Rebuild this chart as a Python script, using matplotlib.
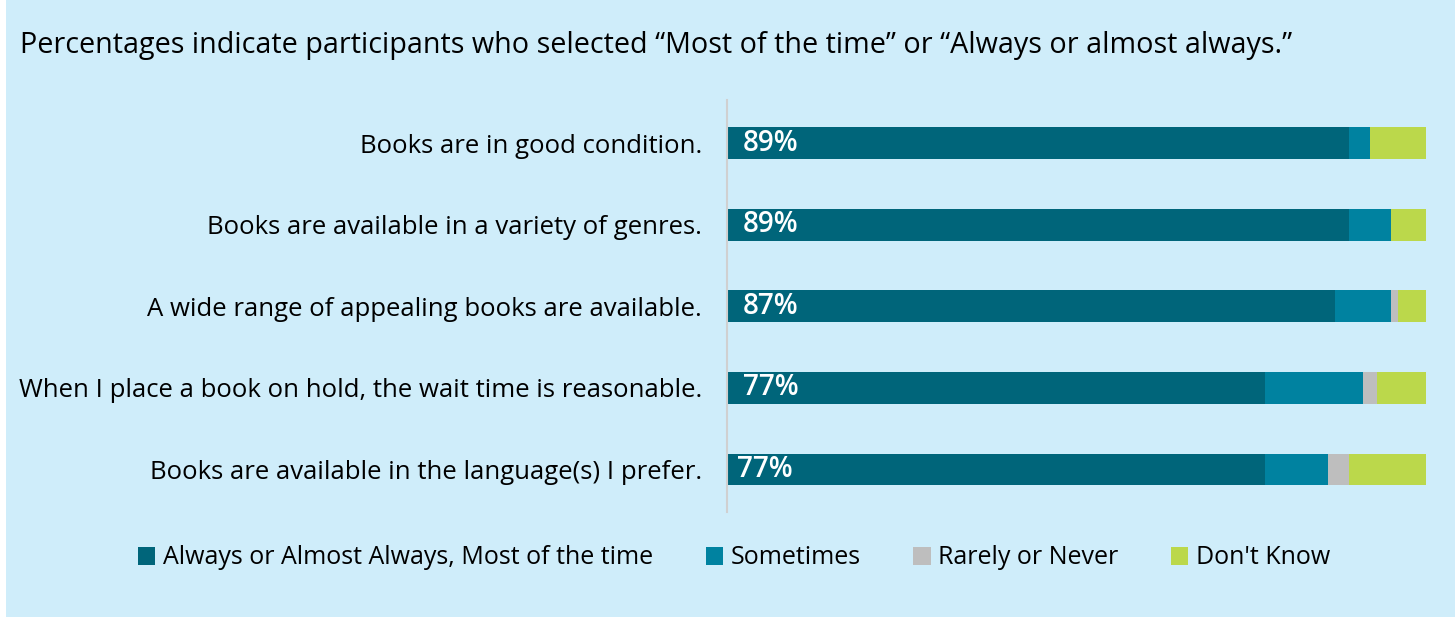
import matplotlib.pyplot as plt
from matplotlib.patches import Rectangle, Patch

# data (percent of participants)
statements = ['Books are in good condition.',
              'Books are available in a variety of genres.',
              'A wide range of appealing books are available.',
              'When I place a book on hold, the wait time is reasonable.',
              'Books are available in the language(s) I prefer.']
always = [89, 89, 87, 77, 77]
sometimes = [3, 6, 8, 14, 9]
rarely = [0, 0, 1, 2, 3]
dont_know = [8, 5, 4, 7, 11]
series_names = ['Always or Almost Always, Most of the time', 'Sometimes',
                'Rarely or Never', "Don't Know"]

colors = ['#00657A', '#0082A0', '#BEBEBE', '#BBD84B']
bg = '#CFEDFA'

plt.rcParams['font.family'] = ['Open Sans', 'DejaVu Sans']

fig = plt.figure(figsize=(14.55, 6.17), dpi=100, facecolor='white')
fig.patches.append(Rectangle((6 / 1455, 0), 1, 1, transform=fig.transFigure,
                             facecolor=bg, edgecolor='none', zorder=-10))

ax = fig.add_axes([727 / 1455, 1 - 512 / 617, 699 / 1455, 412 / 617])
ax.set_facecolor('none')

y = list(range(len(statements)))
left = [0] * len(statements)
for vals, c in zip([always, sometimes, rarely, dont_know], colors):
    ax.barh(y, vals, left=left, height=0.39, color=c, edgecolor='none')
    left = [l + v for l, v in zip(left, vals)]

for i, v in enumerate(always):
    xoff = 2.3 if i < 4 else 1.4
    ax.text(xoff, i, f'{v}%', color='white', fontsize=20,
            fontweight='semibold', va='center', ha='left')

ax.set_xlim(0, 100)
ax.set_ylim(len(statements) - 0.5 + 0.02, -0.53)
ax.set_yticks(y)
ax.set_yticklabels(statements, fontsize=18.5)
ax.tick_params(axis='y', length=0, pad=18)
ax.set_xticks([])
for s in ['top', 'right', 'bottom']:
    ax.spines[s].set_visible(False)
ax.spines['left'].set_color('#D0D0D0')
ax.spines['left'].set_linewidth(1.5)

fig.text(20 / 1455, 1 - 45 / 617,
         'Percentages indicate participants who selected \u201cMost of the time\u201d or \u201cAlways or almost always.\u201d',
         fontsize=20.7, va='center', ha='left')

handles = [Patch(facecolor=c, edgecolor='none') for c in colors]
fig.legend(handles, series_names, loc='center', ncol=4,
           bbox_to_anchor=(734 / 1455, 1 - 558 / 617), frameon=False,
           fontsize=18, handlelength=0.7, handleheight=0.7,
           handletextpad=0.3, columnspacing=2.1)

fig.savefig('out.png', dpi=100, facecolor=fig.get_facecolor())
